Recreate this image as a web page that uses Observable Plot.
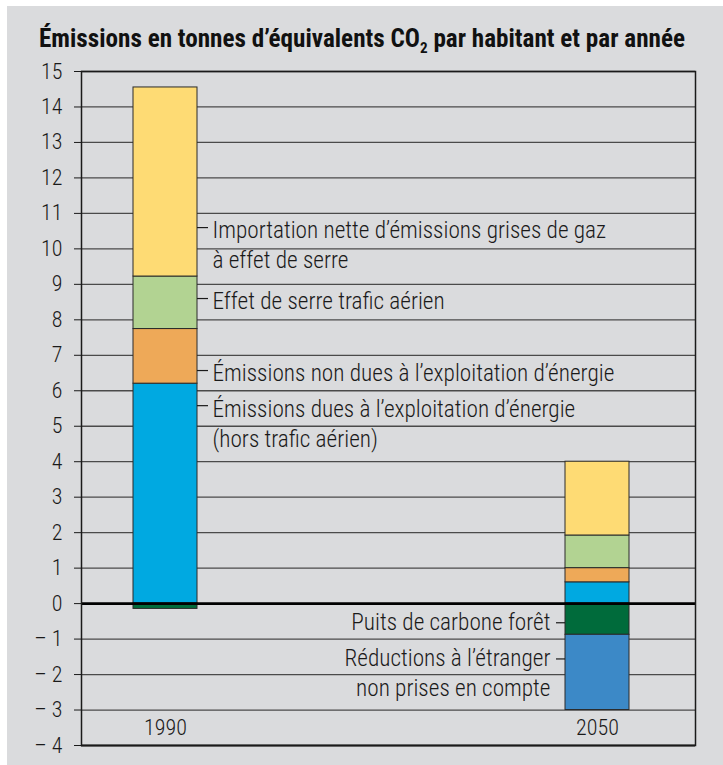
<!DOCTYPE html>
<html>
<head>
<meta charset="utf-8">
<script src="https://cdn.jsdelivr.net/npm/d3@7"></script>
<script src="https://cdn.jsdelivr.net/npm/@observablehq/plot@0.6"></script>
<style>
  html, body { margin: 0; padding: 0; background: #ffffff; }
  body { width: 723px; height: 765px; position: relative; overflow: hidden; }
  #panel { position: absolute; left: 7px; top: 6px; right: 0; bottom: 0; background: #dadbdd; }
  #title { position: absolute; left: 39px; top: 24px; margin: 0; white-space: nowrap;
    font-family: "Roboto Condensed", "DejaVu Sans", sans-serif; font-stretch: condensed;
    font-weight: bold; font-size: 25px; line-height: 30px; color: #111; transform-origin: 0 0; }
  #title sub { font-size: 15px; vertical-align: -6px; line-height: 0; }
  #chart { position: absolute; left: 0; top: 58px; }
  #chart svg text { font-stretch: condensed; }
</style>
</head>
<body>
<div id="panel"></div>
<div id="title">Émissions en tonnes d’équivalents CO<sub>2</sub> par habitant et par année</div>
<div id="chart"></div>
<script>
// ---- data ----
const years = ["1990", "2050"];
const categories = [
  "Émissions dues à l’exploitation d’énergie",
  "Émissions non dues à l’exploitation d’énergie",
  "Effet de serre trafic aérien",
  "Importation nette d’émissions grises",
  "Puits de carbone forêt",
  "Réductions à l’étranger non prises en compte"
];
const values1990 = [6.2, 1.54, 1.48, 5.33, -0.15, 0];
const values2050 = [0.6, 0.4, 0.92, 2.08, -0.88, -2.12];
const colors = ["#00a9e1", "#eea958", "#b2d392", "#fedb74", "#006b3b", "#3c89c7"];
const yTicks = d3.range(-4, 16);

const labels1990 = [
  "Importation nette d’émissions grises de gaz\nà effet de serre",
  "Effet de serre trafic aérien",
  "Émissions non dues à l’exploitation d’énergie",
  "Émissions dues à l’exploitation d’énergie\n(hors trafic aérien)"
];
const labelY1990 = [10.6, 8.6, 6.57, 5.58];
const labels2050 = [
  "Puits de carbone forêt",
  "Réductions à l’étranger\nnon prises en compte"
];
const labelY2050 = [-0.54, -1.56];

// ---- tables ----
const table = [];
categories.forEach((c, i) => {
  table.push({year: "1990", cat: c, value: values1990[i]});
  table.push({year: "2050", cat: c, value: values2050[i]});
});
const ann1990 = labels1990.map((t, i) => ({year: "1990", text: t, y: labelY1990[i]}));
const ann2050 = labels2050.map((t, i) => ({year: "2050", text: t, y: labelY2050[i]}));

const font = '"Roboto Condensed", "DejaVu Sans", sans-serif';

// size the annotation font so the longest label matches the reference width (~402px)
const ctx = document.createElement("canvas").getContext("2d");
ctx.font = '300 100px ' + font;
const w100 = ctx.measureText(labels1990[2]).width;
const fs = Math.max(19, Math.min(24, 100 * 402 / w100));
const lh = 30 / fs;
const bw = 64;

const chart = Plot.plot({
  width: 723,
  height: 707,
  marginTop: 13,
  marginBottom: 20,
  marginLeft: 81,
  marginRight: 28,
  style: {background: "transparent", fontFamily: font, color: "#1a1a1a"},
  x: {type: "band", domain: years, paddingInner: 0.852, paddingOuter: 0.136, align: 0.44, axis: null},
  y: {domain: [-4, 15], ticks: yTicks, tickSize: 7, tickPadding: 12,
      tickFormat: d => d < 0 ? "– " + (-d) : String(d), label: null},
  color: {domain: categories, range: colors},
  marks: [
    Plot.ruleY(yTicks, {stroke: "#4a4a4a", strokeWidth: 1.3}),
    Plot.barY(table, {x: "year", y: "value", fill: "cat", stroke: "#2a2a2a", strokeWidth: 1, order: null}),
    Plot.ruleY([0], {stroke: "#000", strokeWidth: 2.6}),
    Plot.ruleY([-4], {stroke: "#444", strokeWidth: 2}),
    Plot.frame({stroke: "#1a1a1a", strokeWidth: 1.5}),
    Plot.axisY({ticks: yTicks, tickSize: 7, tickPadding: 12, fontSize: 22, fontWeight: 300, fill: "#1a1a1a",
      tickFormat: d => d < 0 ? "– " + (-d) : String(d), label: null}),
    Plot.tickY(ann1990, {x: "year", y: "y", stroke: "#1a1a1a", strokeWidth: 1.2, insetLeft: bw, insetRight: -11}),
    Plot.text(ann1990, {x: "year", y: "y", text: "text", textAnchor: "start", dx: bw / 2 + 15, dy: 3.5 - 0.6 * fs,
      lineAnchor: "top", lineHeight: lh, fontSize: fs, fontWeight: 300, fill: "#1a1a1a"}),
    Plot.tickY(ann2050, {x: "year", y: "y", stroke: "#1a1a1a", strokeWidth: 1.2, insetLeft: -9, insetRight: bw}),
    Plot.text(ann2050, {x: "year", y: "y", text: "text", textAnchor: "end", dx: -(bw / 2 + 15), dy: -0.6 * fs,
      lineAnchor: "top", lineHeight: lh, fontSize: fs, fontWeight: 300, fill: "#1a1a1a"}),
    Plot.text(years, {x: d => d, y: -3.5, text: d => d, fontSize: 22, fontWeight: 300, fill: "#1a1a1a"})
  ]
});
document.getElementById("chart").appendChild(chart);

// fit the title to the reference width
const title = document.getElementById("title");
const w = title.getBoundingClientRect().width;
const target = 646;
title.style.transform = `scaleX(${target / w})`;
</script>
</body>
</html>
